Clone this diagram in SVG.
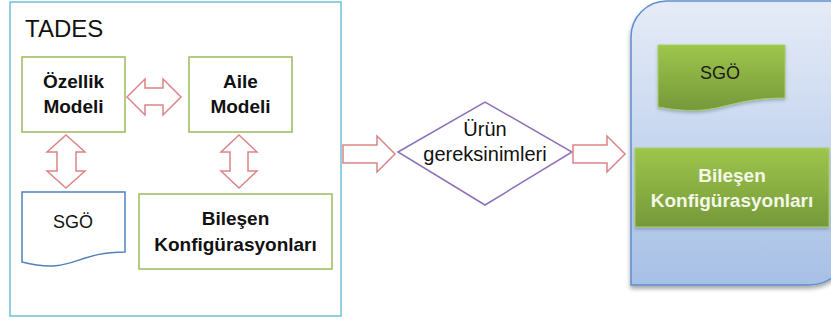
<svg xmlns="http://www.w3.org/2000/svg" width="831" height="322" viewBox="0 0 831 322">
<defs>
  <linearGradient id="panelGrad" x1="0" y1="0" x2="0" y2="1">
    <stop offset="0" stop-color="#E6ECF7"/>
    <stop offset="1" stop-color="#A7C0E6"/>
  </linearGradient>
  <linearGradient id="greenGrad" x1="0" y1="0" x2="0" y2="1">
    <stop offset="0" stop-color="#9DC64C"/>
    <stop offset="1" stop-color="#76983A"/>
  </linearGradient>
  <filter id="shadow" x="-10%" y="-10%" width="130%" height="130%">
    <feDropShadow dx="0" dy="3" stdDeviation="2" flood-color="#000" flood-opacity="0.35"/>
  </filter>
  <filter id="softShadow" x="-10%" y="-10%" width="130%" height="140%">
    <feDropShadow dx="0" dy="2" stdDeviation="1.5" flood-color="#2a3a5a" flood-opacity="0.3"/>
  </filter>
</defs>
<style>
  text { font-family: "Liberation Sans", Arial, sans-serif; text-anchor: middle; }
  .bold { font-weight: bold; font-size: 19px; fill: #111; }
  .reg { font-size: 18px; fill: #111; }
  .greenBox { fill: none; stroke: #9BBB59; stroke-width: 1.5; }
  .arrow { fill: #fff; stroke: #DC8486; stroke-width: 1.5; stroke-linejoin: miter; }
  .gfill { fill: url(#greenGrad); stroke: #A9CF66; stroke-width: 1; filter: url(#softShadow); }
  .wtext { font-weight: bold; font-size: 19px; fill: #F3F8E8; }
</style>

<g id="tades-frame">
  <rect x="10" y="2" width="331" height="314" fill="#fff" stroke="#6CC2D8" stroke-width="1.5"/>
  <text x="25" y="37" style="text-anchor:start;font-size:24px;fill:#111">TADES</text>
</g>

<g id="ozellik-modeli">
  <rect class="greenBox" x="22" y="57" width="103" height="75"/>
  <text class="bold" x="73.5" y="88">Özellik</text>
  <text class="bold" x="73.5" y="113">Modeli</text>
</g>

<g id="aile-modeli">
  <rect class="greenBox" x="189" y="57" width="103" height="75"/>
  <text class="bold" x="240.5" y="88">Aile</text>
  <text class="bold" x="240.5" y="113">Modeli</text>
</g>

<g id="sgo-left">
  <path d="M22,192 H125 V252 C73.5,252 73.5,275 22,262 Z" fill="#fff" stroke="#4F81BD" stroke-width="1.5"/>
  <text class="reg" x="73" y="228">SGÖ</text>
</g>

<g id="bilesen-left">
  <rect class="greenBox" x="139" y="194" width="193" height="75"/>
  <text class="bold" x="235.5" y="225">Bileşen</text>
  <text class="bold" x="235.5" y="251">Konfigürasyonları</text>
</g>

<g id="urun-gereksinimleri">
  <polygon points="398,152 485,102 572,152 485,205" fill="#fff" stroke="#8E72B8" stroke-width="1.5"/>
  <text class="reg" x="485" y="136" style="font-size:20px">Ürün</text>
  <text class="reg" x="485" y="161" style="font-size:20px">gereksinimleri</text>
</g>

<g id="output-panel">
  <path d="M631,285 V37 A36,36 0 0 1 667,1 H845 V250 C845,272 830,285 808,285 Z" fill="url(#panelGrad)" stroke="#5F8DCF" stroke-width="1.5" filter="url(#shadow)"/>
</g>

<g id="sgo-right">
  <path class="gfill" d="M658,45 H785 V98 C721.5,98 721.5,118.5 658,107 Z"/>
  <text class="reg" x="720" y="79" style="fill:#1a1a1a">SGÖ</text>
</g>

<g id="bilesen-right">
  <rect class="gfill" x="635" y="148" width="194" height="79"/>
  <text class="wtext" x="732" y="182">Bileşen</text>
  <text class="wtext" x="732" y="207">Konfigürasyonları</text>
</g>

<g id="connectors">
  <polygon class="arrow" points="127,97 145,79 145,88 163,88 163,79 181,97 163,115 163,105 145,105 145,115"/>
  <polygon class="arrow" points="66,135 85,152 76,152 76,171 85,171 66,188 47,171 57,171 57,152 47,152"/>
  <polygon class="arrow" points="239,135 257,152 248,152 248,171 257,171 239,188 221,171 230,171 230,152 221,152"/>
  <polygon class="arrow" points="343,145 377,145 377,136 395,154 377,172 377,163 343,163"/>
  <polygon class="arrow" points="573,145 607,145 607,136 625,154 607,172 607,163 573,163"/>
</g>
</svg>
